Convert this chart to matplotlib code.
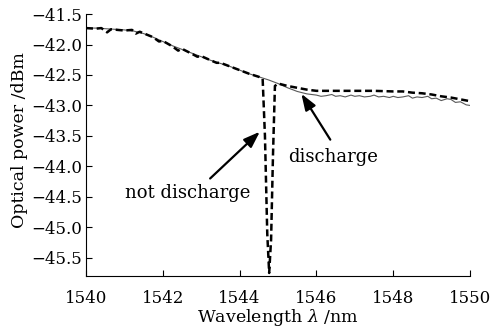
import matplotlib
matplotlib.use("Agg")
import matplotlib.pyplot as plt

plt.rcParams["font.family"] = "DejaVu Serif"
plt.rcParams["mathtext.fontset"] = "dejavuserif"

# discharge (solid gray)
wl_dis = [
    1540.00, 1540.25, 1540.50, 1540.75, 1541.00, 1541.25, 1541.50, 1541.75,
    1542.00, 1542.25, 1542.50, 1542.75, 1543.00, 1543.25, 1543.50, 1543.75,
    1544.00, 1544.25, 1544.50, 1544.75, 1545.00, 1545.25, 1545.50, 1545.75,
    1546.00, 1546.12, 1546.25, 1546.40, 1546.50, 1546.62, 1546.75, 1546.90,
    1547.00, 1547.12, 1547.25, 1547.40, 1547.50, 1547.62, 1547.75, 1547.90,
    1548.00, 1548.12, 1548.25, 1548.40, 1548.50, 1548.62, 1548.75, 1548.90,
    1549.00, 1549.12, 1549.25, 1549.40, 1549.50, 1549.62, 1549.75, 1549.90,
    1550.00
]
p_dis = [
    -41.73, -41.73, -41.74, -41.75, -41.76, -41.78, -41.82, -41.88,
    -41.95, -42.02, -42.08, -42.14, -42.20, -42.26, -42.31, -42.36,
    -42.42, -42.48, -42.53, -42.58, -42.64, -42.71, -42.77, -42.81,
    -42.83, -42.85, -42.84, -42.82, -42.85, -42.84, -42.86, -42.83,
    -42.85, -42.84, -42.86, -42.85, -42.83, -42.86, -42.85, -42.87,
    -42.85, -42.87, -42.86, -42.84, -42.88, -42.86, -42.87, -42.85,
    -42.89, -42.88, -42.92, -42.89, -42.90, -42.95, -42.94, -42.99,
    -43.00
]

# not discharge (dashed black)
wl_nd = [
    1540.00, 1540.25, 1540.40, 1540.55, 1540.65, 1541.00, 1541.20, 1541.30,
    1541.40, 1541.75, 1541.90, 1542.00, 1542.25, 1542.40, 1542.50, 1542.75,
    1542.90, 1543.00, 1543.25, 1543.40, 1543.50, 1543.75, 1544.00, 1544.25,
    1544.50, 1544.60, 1544.66, 1544.72, 1544.77, 1544.82, 1544.87, 1544.92,
    1545.00, 1545.25, 1545.50, 1545.75, 1546.00, 1546.50, 1547.00, 1547.50,
    1548.00, 1548.25, 1548.50, 1548.75, 1549.00, 1549.25, 1549.50, 1549.75,
    1550.00
]
p_nd = [
    -41.73, -41.74, -41.73, -41.80, -41.75, -41.77, -41.76, -41.82,
    -41.79, -41.88, -41.95, -41.94, -42.03, -42.10, -42.07, -42.15,
    -42.20, -42.19, -42.26, -42.30, -42.30, -42.36, -42.42, -42.48,
    -42.53, -42.56, -43.50, -45.10, -45.75, -45.20, -43.80, -42.68,
    -42.64, -42.68, -42.71, -42.74, -42.76, -42.76, -42.76, -42.76,
    -42.77, -42.77, -42.79, -42.80, -42.82, -42.85, -42.87, -42.90,
    -42.93
]

x_ticks = [1540, 1542, 1544, 1546, 1548, 1550]
y_ticks = [-41.5, -42.0, -42.5, -43.0, -43.5, -44.0, -44.5, -45.0, -45.5]

fig = plt.figure(figsize=(4.93, 3.35), dpi=100)
ax = fig.add_axes([0.1744, 0.176, 0.779, 0.782])

ax.plot(wl_dis, p_dis, color="0.35", lw=0.8)
ax.plot(wl_nd, p_nd, color="black", lw=1.8, linestyle=(0, (2.8, 1.5)))

ax.set_xlim(1540, 1550)
ax.set_ylim(-45.8, -41.5)
ax.set_xticks(x_ticks)
ax.set_yticks(y_ticks)
ax.set_yticklabels([f"{v:.1f}".replace("-", "\u2212") for v in y_ticks])

ax.spines["top"].set_visible(False)
ax.spines["right"].set_visible(False)
ax.tick_params(direction="in", length=4, labelsize=12)
ax.tick_params(axis="x", pad=10)
ax.tick_params(axis="y", pad=3)

ax.set_xlabel(r"Wavelength $\lambda$ /nm", fontsize=12.5, labelpad=0)
ax.set_ylabel("Optical power /dBm", fontsize=12.5)
ax.yaxis.set_label_coords(-0.152, 0.52)

arrow = dict(arrowstyle="-|>,head_length=0.7,head_width=0.25",
             color="black", lw=1.6, mutation_scale=14)
ax.annotate("", xy=(1544.58, -43.40), xytext=(1543.18, -44.23), arrowprops=arrow)
ax.annotate("", xy=(1545.57, -42.77), xytext=(1546.40, -43.60), arrowprops=arrow)
ax.text(1542.66, -44.43, "not discharge", fontsize=13, ha="center", va="center")
ax.text(1546.43, -43.85, "discharge", fontsize=13, ha="center", va="center")

fig.savefig("out.png", dpi=100)
